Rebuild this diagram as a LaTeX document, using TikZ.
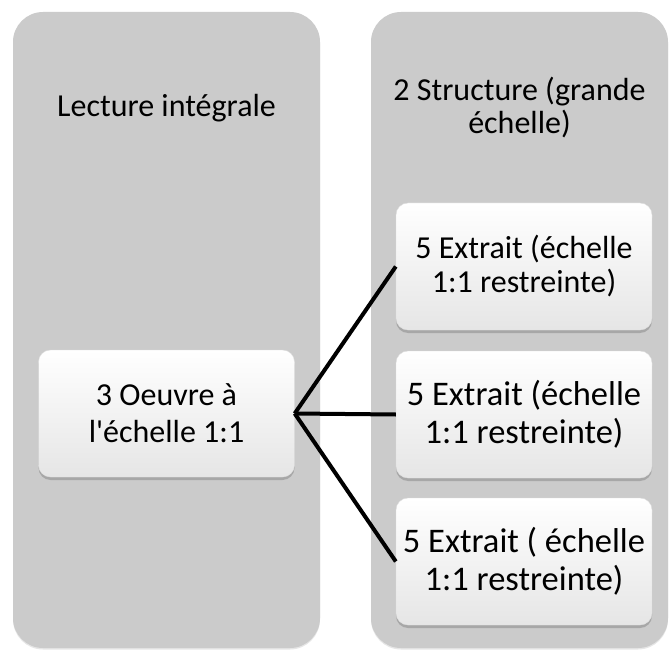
\documentclass[tikz,border=0pt]{standalone}
\usepackage{fontspec}
\setmainfont{Carlito}
\usetikzlibrary{positioning,shadows}
\definecolor{panelgray}{HTML}{CBCBCB}

\begin{document}
\begin{tikzpicture} [x=1pt,y=-1pt,every node/.style={align=center},
	panel/.style={fill=panelgray,rounded corners=30pt,inner sep=0pt,
		drop shadow={shadow xshift=0pt,shadow yshift=-1.5pt,opacity=.2}},
	box/.style={rounded corners=12pt,top color=white,bottom color=gray!20,
		draw=gray!25,minimum width=256pt,minimum height=127pt,
		drop shadow={shadow xshift=0pt,shadow yshift=-3pt,fill=gray!80,opacity=.7}},
	link/.style={line width=4pt,black}]

\useasboundingbox (0,0) rectangle (670,650);

\node (lecture) [panel,minimum width=307pt,minimum height=636pt] at (166.5,330) {};
\node (structure) [panel,minimum width=297pt,minimum height=636pt] at (519.5,330) {};
\node (lecturetxt) [font=\fontsize{32}{33}\selectfont] at (166.5,108) {Lecture intégrale};
\node (structuretxt) [font=\fontsize{32}{33}\selectfont] at (519.5,108) {2 Structure (grande\\échelle)};

\node (oeuvre) [box,font=\fontsize{32}{37}\selectfont] at (166.5,413.5) {3 Oeuvre à\\l\textquotesingle échelle 1:1};

\foreach[count=\c] \y/\fs/\bs/\txt in {266.5/32/34/{5 Extrait (échelle\\1:1 restreinte)},
	414.5/34.5/38/{5 Extrait (échelle\\1:1 restreinte)},
	561.5/34.5/38/{5 Extrait ( échelle\\1:1 restreinte)}}{
	\node (extrait\c) [box,font=\fontsize{\fs}{\bs}\selectfont] at (524,\y) {\txt};
	\draw[link] (oeuvre.east) -- (extrait\c.west);
}

\end{tikzpicture}
\end{document}
